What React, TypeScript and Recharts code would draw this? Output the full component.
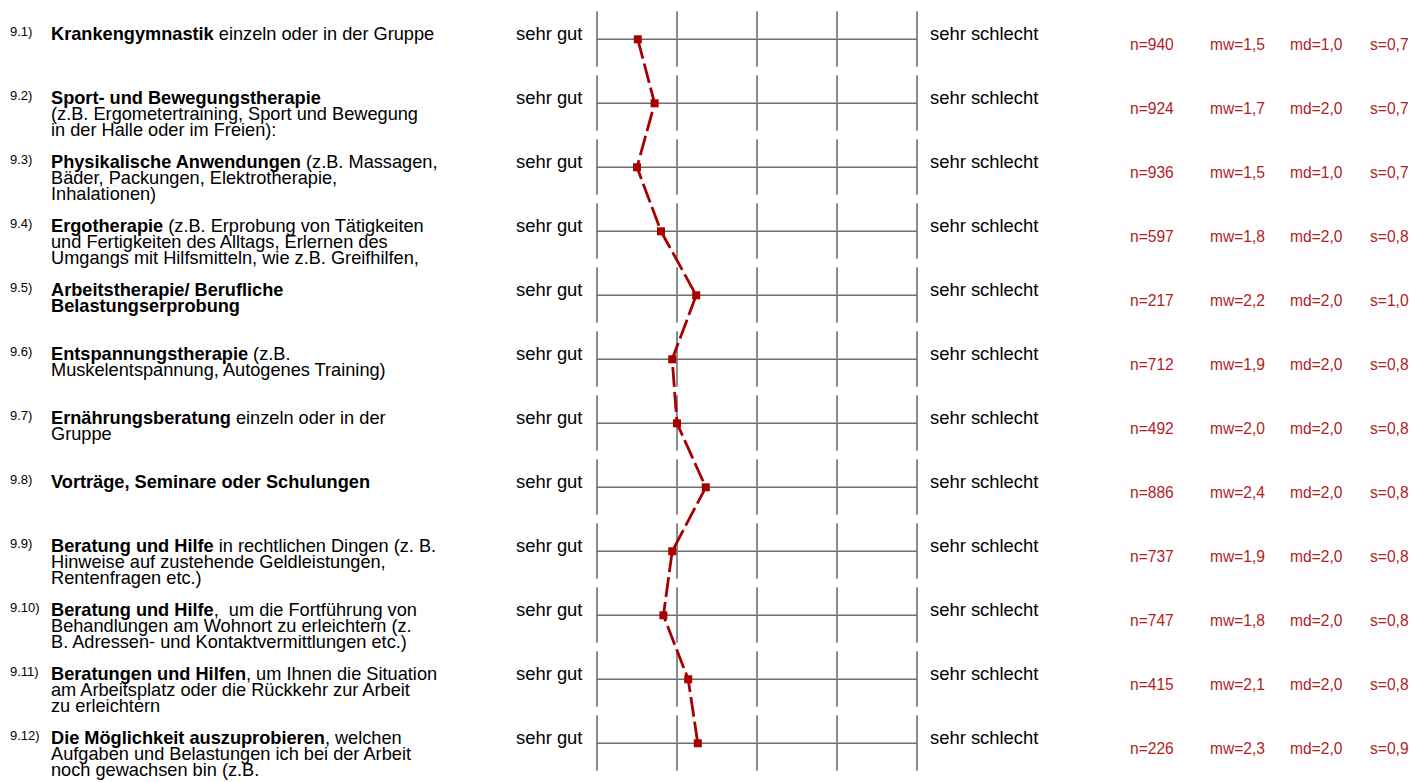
import React from 'react';
import { ScatterChart, Scatter, XAxis, YAxis, ZAxis, ReferenceLine } from 'recharts';

// ─── Data ─────────────────────────────────────────────────────────────────────

const CODES = ['9.1)', '9.2)', '9.3)', '9.4)', '9.5)', '9.6)', '9.7)', '9.8)', '9.9)', '9.10)', '9.11)', '9.12)'];

// each item: lines, each line: [text, bold]
const ITEMS: [string, boolean][][][] = [
  [[['Krankengymnastik', true], [' einzeln oder in der Gruppe', false]]],
  [
    [['Sport- und Bewegungstherapie', true]],
    [['(z.B. Ergometertraining, Sport und Bewegung', false]],
    [['in der Halle oder im Freien):', false]],
  ],
  [
    [['Physikalische Anwendungen', true], [' (z.B. Massagen,', false]],
    [['Bäder, Packungen, Elektrotherapie,', false]],
    [['Inhalationen)', false]],
  ],
  [
    [['Ergotherapie', true], [' (z.B. Erprobung von Tätigkeiten', false]],
    [['und Fertigkeiten des Alltags, Erlernen des', false]],
    [['Umgangs mit Hilfsmitteln, wie z.B. Greifhilfen,', false]],
  ],
  [[['Arbeitstherapie/ Berufliche', true]], [['Belastungserprobung', true]]],
  [[['Entspannungstherapie', true], [' (z.B.', false]], [['Muskelentspannung, Autogenes Training)', false]]],
  [[['Ernährungsberatung', true], [' einzeln oder in der', false]], [['Gruppe', false]]],
  [[['Vorträge, Seminare oder Schulungen', true]]],
  [
    [['Beratung und Hilfe', true], [' in rechtlichen Dingen (z. B.', false]],
    [['Hinweise auf zustehende Geldleistungen,', false]],
    [['Rentenfragen etc.)', false]],
  ],
  [
    [['Beratung und Hilfe', true], [',  um die Fortführung von', false]],
    [['Behandlungen am Wohnort zu erleichtern (z.', false]],
    [['B. Adressen- und Kontaktvermittlungen etc.)', false]],
  ],
  [
    [['Beratungen und Hilfen', true], [', um Ihnen die Situation', false]],
    [['am Arbeitsplatz oder die Rückkehr zur Arbeit', false]],
    [['zu erleichtern', false]],
  ],
  [
    [['Die Möglichkeit auszuprobieren', true], [', welchen', false]],
    [['Aufgaben und Belastungen ich bei der Arbeit', false]],
    [['noch gewachsen bin (z.B.', false]],
  ],
];

const N = [940, 924, 936, 597, 217, 712, 492, 886, 737, 747, 415, 226];
const MW = [1.51, 1.72, 1.5, 1.8, 2.24, 1.94, 2.0, 2.36, 1.94, 1.83, 2.14, 2.26];
const MD = [1.0, 2.0, 1.0, 2.0, 2.0, 2.0, 2.0, 2.0, 2.0, 2.0, 2.0, 2.0];
const S = [0.7, 0.7, 0.7, 0.8, 1.0, 0.8, 0.8, 0.8, 0.8, 0.8, 0.8, 0.9];

const SCALE = [1, 2, 3, 4, 5];

// ─── Styles ───────────────────────────────────────────────────────────────────

const FONT = '"Liberation Sans", Arial, Helvetica, sans-serif';
const GRID = '#6e6e6e';
const RED = '#a80000';
const STAT = '#b01e1e';

const fmt = (v: number) => v.toFixed(1).replace('.', ',');

const rows = MW.map((mw, i) => ({ row: i, mw }));
const ticks = rows.map((r) => r.row);

// one tick = one questionnaire row: label text on the left, scale ends and stats on the right
function RowTick({ y, payload }: any) {
  const i = payload.value as number;
  const lines = ITEMS[i] ?? [];
  return (
    <g fontFamily={FONT}>
      <text x={10} y={y - 3} fontSize={13} fill="#000">{CODES[i]}</text>
      {lines.map((line, li) => (
        <text key={li} x={51} y={y + 0.5 + li * 16} fontSize={18.2} fill="#000" style={{ whiteSpace: 'pre' }}>
          {line.map(([t, b], si) => (
            <tspan key={si} fontWeight={b ? 'bold' : 'normal'}>{t}</tspan>
          ))}
        </text>
      ))}
      <text x={516} y={y + 0.5} fontSize={18.4} fill="#000">sehr gut</text>
      <text x={930} y={y + 0.5} fontSize={18.4} fill="#000">sehr schlecht</text>
      <g fontSize={15.6} fill={STAT}>
        <text x={1130} y={y + 10.5}>{`n=${N[i]}`}</text>
        <text x={1210} y={y + 10.5}>{`mw=${fmt(MW[i])}`}</text>
        <text x={1290} y={y + 10.5}>{`md=${fmt(MD[i])}`}</text>
        <text x={1370} y={y + 10.5}>{`s=${fmt(S[i])}`}</text>
      </g>
    </g>
  );
}

export default function App() {
  return (
    <div style={{ position: 'absolute', left: 0, top: 0, background: '#fff' }}>
      <ScatterChart width={1412} height={782} margin={{ top: 7.3, right: 495, bottom: 6.7, left: 0 }}>
        <XAxis type="number" dataKey="mw" domain={[1, 5]} hide />
        <YAxis
          yAxisId="left" type="number" dataKey="row" domain={[-0.5, 11.5]} reversed
          ticks={ticks} interval={0} width={597} axisLine={false} tickLine={false}
          tick={<RowTick />}
        />
        <ZAxis range={[81, 81]} />
        {rows.map((r) =>
          SCALE.map((v) => (
            <ReferenceLine
              key={`v${r.row}-${v}`} yAxisId="left"
              segment={[{ x: v, y: r.row - 0.4375 }, { x: v, y: r.row + 0.43 }]}
              stroke={GRID} strokeWidth={1.6}
            />
          ))
        )}
        {rows.map((r) => (
          <ReferenceLine
            key={`h${r.row}`} yAxisId="left"
            segment={[{ x: 1, y: r.row }, { x: 5, y: r.row }]}
            stroke={GRID} strokeWidth={1.6}
          />
        ))}
        <Scatter
          yAxisId="left" data={rows} fill={RED} shape="square"
          line={{ stroke: RED, strokeWidth: 2.8, strokeDasharray: '20 5' }}
          isAnimationActive={false}
        />
      </ScatterChart>
    </div>
  );
}
